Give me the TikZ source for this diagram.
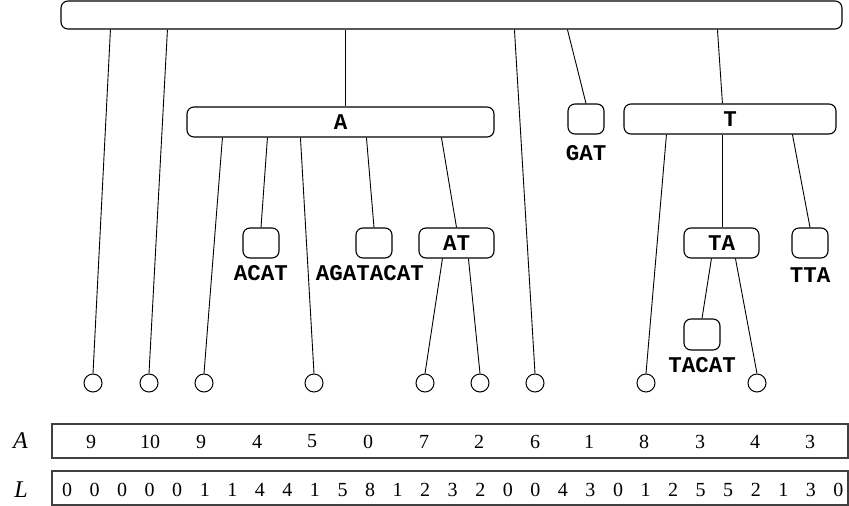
\documentclass[tikz,border=0pt]{standalone}
\usepackage{fontspec}
\setmainfont{Liberation Serif}
\newfontfamily\treefont{Liberation Mono}
\usetikzlibrary{positioning}

\begin{document}
\begin{tikzpicture}[x=1pt, y=-1pt,
    trie/.style={draw, rounded corners=7pt, line width=1.1pt, inner sep=0pt,
        minimum height=30pt, font=\treefont\bfseries\fontsize{22.5}{22.5}\selectfont},
    small/.style={trie, minimum width=36pt},
    leaf/.style={draw, circle, line width=1pt, minimum size=18pt, inner sep=0pt},
    leaflab/.style={inner sep=0pt, font=\treefont\bfseries\fontsize{22.5}{22.5}\selectfont},
    edge/.style={line width=0.9pt},
    arr/.style={draw=black!75, line width=1.5pt, minimum width=796pt,
        minimum height=34pt, inner sep=0pt},
    cell/.style={inner sep=0pt, font=\fontsize{20}{20}\selectfont},
    arrname/.style={inner sep=0pt, font=\itshape\fontsize{24}{24}\selectfont}]
        \useasboundingbox (0,0) rectangle (849,506);
        % root and inner nodes
        \node[trie, minimum width=781pt, minimum height=28pt] (root) at (451.5,15) {};
        \node[trie, minimum width=307pt] (nA) at (340.5,122) {A};
        \node[small] (nGAT) at (586,119) {};
        \node[trie, minimum width=212pt] (nT) at (730,119) {T};
        \node[small] (nACAT) at (261,243) {};
        \node[small] (nAGATACAT) at (374,243) {};
        \node[trie, minimum width=75pt] (nAT) at (456.5,243) {AT};
        \node[trie, minimum width=75pt] (nTA) at (721.5,243) {TA};
        \node[small] (nTTA) at (810,243) {};
        \node[small, minimum height=31pt] (nTACAT) at (702,334.5) {};
        % labels under the small boxes
        \node[leaflab, below=11pt of nGAT] (tGAT) {GAT};
        \node[leaflab, below=7pt of nACAT] (tACAT) {ACAT};
        \node[leaflab, below=7pt of nAGATACAT, xshift=-4pt] (tAGATACAT) {AGATACAT};
        \node[leaflab, below=9pt of nTTA] (tTTA) {TTA};
        \node[leaflab, below=7pt of nTACAT] (tTACAT) {TACAT};
        % leaves
        \foreach \n/\x in {0/93,1/149,2/204,4/314,6/425,7/480,8/535,10/646,12/757}
        \node[leaf] (p\n) at (\x,383) {};
        % edges from the root
        \draw[edge] ([xshift=50pt]root.south west) -- (p0.north);
        \draw[edge] ([xshift=107pt]root.south west) -- (p1.north);
        \draw[edge] ([xshift=285pt]root.south west) -- ([xshift=159pt]nA.north west);
        \draw[edge] ([xshift=454pt]root.south west) -- (p8.north);
        \draw[edge] ([xshift=507pt]root.south west) -- (nGAT.north);
        \draw[edge] ([xshift=657pt]root.south west) -- ([xshift=99pt]nT.north west);
        % edges below A
        \draw[edge] ([xshift=36pt]nA.south west) -- (p2.north);
        \draw[edge] ([xshift=81pt]nA.south west) -- (nACAT.north);
        \draw[edge] ([xshift=114pt]nA.south west) -- (p4.north);
        \draw[edge] ([xshift=180pt]nA.south west) -- (nAGATACAT.north);
        \draw[edge] ([xshift=255pt]nA.south west) -- (nAT.north);
        \draw[edge] ([xshift=24pt]nAT.south west) -- (p6.north);
        \draw[edge] ([xshift=50pt]nAT.south west) -- (p7.north);
        % edges below T
        \draw[edge] ([xshift=43pt]nT.south west) -- (p10.north);
        \draw[edge] ([xshift=99pt]nT.south west) -- ([xshift=39pt]nTA.north west);
        \draw[edge] ([xshift=169pt]nT.south west) -- (nTTA.north);
        \draw[edge] ([xshift=28pt]nTA.south west) -- (nTACAT.north);
        \draw[edge] ([xshift=52pt]nTA.south west) -- (p12.north);
        % arrays
        \node[arrname] (labA) at (20.5,441) {A};
        \node[arrname] (labL) at (21,489.5) {L};
        \node[arr] (arrA) at (450,441) {};
        \node[arr] (arrL) at (450,488) {};
        \foreach \x/\v [count=\i] in {91/9,150/10,201/9,257/4,312/5,368/0,424/7,479/2,535/6,589/1,644/8,700/3,755/4,810/3}
        \node[cell] (a\i) at (\x,441.5) {\v};
        \foreach \v [count=\i from 0] in {0,0,0,0,0,1,1,4,4,1,5,8,1,2,3,2,0,0,4,3,0,1,2,5,5,2,1,3,0}
        \node[cell] (l\i) at ({67+27.55*\i},490) {\v};
\end{tikzpicture}
\end{document}
